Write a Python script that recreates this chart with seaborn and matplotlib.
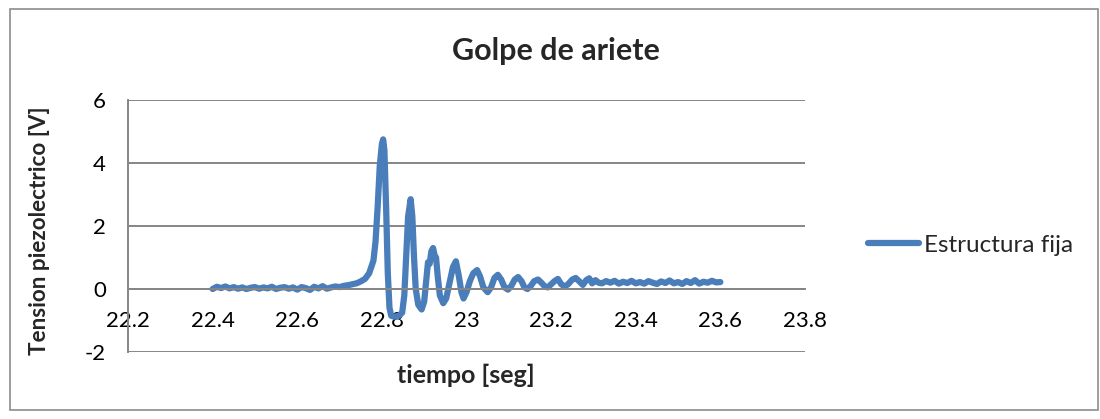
import matplotlib
matplotlib.use("Agg")
import matplotlib.pyplot as plt
import matplotlib.patches as mpatches
from matplotlib.ticker import FixedLocator, FuncFormatter
import numpy as np
import pandas as pd
import seaborn as sns

# ---- data ----
t_base = [22.40, 22.41, 22.42, 22.43, 22.44, 22.45, 22.46, 22.47, 22.48, 22.49,
          22.50, 22.51, 22.52, 22.53, 22.54, 22.55, 22.56, 22.57, 22.58, 22.59,
          22.60, 22.61, 22.62, 22.63, 22.64, 22.65, 22.66, 22.67, 22.68, 22.69,
          22.70, 22.71, 22.72, 22.73, 22.74, 22.75, 22.76, 22.77]
v_base = [0.00, 0.07, 0.03, 0.08, 0.02, 0.06, 0.01, 0.05, 0.00, 0.04,
          0.06, 0.01, 0.05, 0.02, 0.07, 0.00, 0.04, 0.06, 0.01, 0.05,
          -0.02, 0.06, 0.03, -0.03, 0.07, 0.02, 0.09, 0.01, 0.05, 0.08,
          0.06, 0.10, 0.12, 0.15, 0.18, 0.24, 0.32, 0.50]

t_pulse = [22.780, 22.785, 22.790, 22.795, 22.800, 22.803, 22.806, 22.810, 22.814,
           22.818, 22.822, 22.830, 22.840, 22.848, 22.853, 22.858, 22.862, 22.868,
           22.872, 22.876, 22.880, 22.886, 22.894, 22.900, 22.905, 22.909, 22.913,
           22.917, 22.921, 22.925, 22.928, 22.932, 22.937, 22.945, 22.952, 22.960,
           22.968, 22.975, 22.982, 22.988, 22.993, 23.000, 23.008, 23.016, 23.025,
           23.032, 23.040, 23.050, 23.058, 23.066, 23.074, 23.082, 23.090, 23.098,
           23.106, 23.114, 23.122, 23.130, 23.137, 23.144, 23.152, 23.160, 23.169,
           23.177, 23.185, 23.192, 23.200, 23.208, 23.216, 23.224, 23.232, 23.240,
           23.250, 23.258, 23.266]
v_pulse = [0.90, 1.50, 2.60, 3.90, 4.60, 4.75, 4.40, 2.60, 0.50,
           -0.60, -0.85, -0.88, -0.85, -0.75, -0.20, 1.20, 2.30, 2.85,
           2.30, 1.00, 0.00, -0.50, -0.65, -0.40, 0.30, 0.85, 0.80,
           1.20, 1.30, 1.05, 1.00, 0.40, -0.20, -0.45, -0.30, 0.20,
           0.70, 0.88, 0.40, -0.10, -0.30, -0.10, 0.25, 0.50, 0.60,
           0.40, 0.05, -0.10, 0.05, 0.35, 0.45, 0.30, 0.05, -0.02,
           0.10, 0.30, 0.38, 0.25, 0.05, 0.00, 0.10, 0.25, 0.30,
           0.20, 0.08, 0.05, 0.15, 0.25, 0.32, 0.15, 0.08, 0.15,
           0.30, 0.35, 0.25]

t_tail = [23.275, 23.283, 23.290, 23.297, 23.305, 23.312, 23.32, 23.33, 23.34,
          23.35, 23.36, 23.37, 23.38, 23.39, 23.40, 23.41, 23.42, 23.43, 23.44,
          23.45, 23.46, 23.47, 23.48, 23.49, 23.50, 23.51, 23.52, 23.53, 23.54,
          23.55, 23.56, 23.57, 23.58, 23.59, 23.60]
v_tail = [0.13, 0.28, 0.34, 0.18, 0.28, 0.20, 0.18, 0.25, 0.20,
          0.26, 0.17, 0.23, 0.19, 0.26, 0.18, 0.22, 0.17, 0.25, 0.20,
          0.16, 0.24, 0.19, 0.27, 0.18, 0.22, 0.16, 0.25, 0.19, 0.28,
          0.17, 0.23, 0.20, 0.26, 0.21, 0.22]

x_ticks = [22.2, 22.4, 22.6, 22.8, 23.0, 23.2, 23.4, 23.6, 23.8]
y_ticks = [-2, 0, 2, 4, 6]
series_name = "Estructura fija"
title = "Golpe de ariete"
x_label = "tiempo [seg]"
y_label = "Tension piezolectrico [V]"

df = pd.DataFrame({
    "t": t_base + t_pulse + t_tail,
    "v": v_base + v_pulse + v_tail,
})

sns.set_style("white")
plt.rcParams["font.family"] = ["Lato", "DejaVu Sans"]

W, H = 1100, 419
fig = plt.figure(figsize=(W / 100, H / 100), dpi=100)
ax = fig.add_axes([128 / W, 1 - 352 / H, (805 - 128) / W, (352 - 100) / H])

line_color = "#4A7EBB"
grid_color = "#868686"

sns.lineplot(data=df, x="t", y="v", ax=ax, color=line_color, linewidth=4.5,
             label=series_name, sort=False, estimator=None,
             solid_capstyle="round", solid_joinstyle="round")

ax.set_xlim(22.2, 23.8)
ax.set_ylim(-2, 6)
ax.xaxis.set_major_locator(FixedLocator(x_ticks))
ax.yaxis.set_major_locator(FixedLocator(y_ticks))
ax.xaxis.set_major_formatter(FuncFormatter(lambda v, p: f"{v:g}"))
ax.yaxis.set_major_formatter(FuncFormatter(lambda v, p: f"{v:g}"))

ax.grid(axis="y", color=grid_color, linewidth=1.4)
ax.set_axisbelow(True)
for s in ["top", "right"]:
    ax.spines[s].set_visible(False)
ax.spines["left"].set_color(grid_color)
ax.spines["left"].set_linewidth(1.4)
ax.spines["bottom"].set_position(("data", 0))
ax.spines["bottom"].set_color(grid_color)
ax.spines["bottom"].set_linewidth(1.4)

ax.tick_params(axis="x", length=0, pad=16, labelsize=16, colors="black")
ax.tick_params(axis="y", length=0, pad=16, labelsize=16, colors="black")

ax.set_xlabel("")
ax.set_ylabel("")
fig.text(466 / W, 1 - 375 / H, x_label, ha="center", va="center",
         fontsize=18, fontweight="bold")
fig.text(40 / W, 1 - 231 / H, y_label, ha="center", va="center",
         rotation=90, fontsize=16.2, fontweight="bold")
fig.text(556 / W, 1 - 51 / H, title, ha="center", va="center",
         fontsize=22, fontweight="bold")

leg = ax.legend(loc="center left", bbox_to_anchor=(868 / W, 1 - 245 / H),
                bbox_transform=fig.transFigure, frameon=False,
                fontsize=17.5, handlelength=2.1, handletextpad=0.2,
                borderpad=0, borderaxespad=0)

fig.patches.append(mpatches.Rectangle((10 / W, 1 - 410 / H), 1088 / W, 401 / H,
                                      transform=fig.transFigure, fill=False,
                                      edgecolor="#8C8C8C", linewidth=1.2))

fig.savefig("out.png", dpi=100)
